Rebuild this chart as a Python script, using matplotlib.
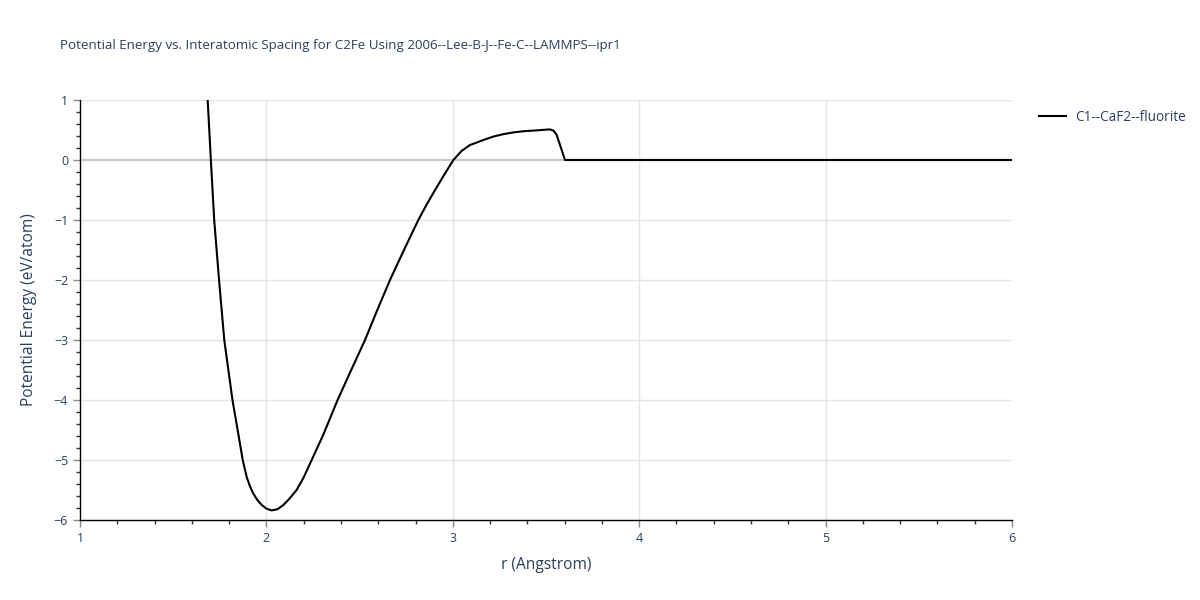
import matplotlib
matplotlib.use("Agg")
import matplotlib.pyplot as plt
from matplotlib.ticker import MultipleLocator

r_vals = [1.685, 1.702, 1.720, 1.746, 1.774, 1.818, 1.849, 1.873, 1.894, 1.912,
          1.930, 1.952, 1.975, 2.000, 2.028, 2.060, 2.091, 2.125, 2.162, 2.200,
          2.234, 2.305, 2.382, 2.455, 2.529, 2.595, 2.663, 2.738, 2.815, 2.860,
          2.905, 2.955, 3.003, 3.047, 3.092, 3.119, 3.170, 3.217, 3.270, 3.325,
          3.380, 3.432, 3.521, 3.540, 3.557, 3.602, 6.0]
energy = [1.0, 0.0, -1.0, -2.0, -3.0, -4.0, -4.56, -5.0, -5.28, -5.44,
          -5.56, -5.67, -5.75, -5.81, -5.84, -5.82, -5.75, -5.64, -5.5, -5.29,
          -5.06, -4.58, -4.0, -3.5, -3.0, -2.5, -2.0, -1.5, -1.0, -0.74,
          -0.5, -0.24, 0.0, 0.15, 0.25, 0.28, 0.34, 0.39, 0.43, 0.46,
          0.48, 0.49, 0.51, 0.49, 0.42, 0.0, 0.0]
series_name = "C1--CaF2--fluorite"
title = "Potential Energy vs. Interatomic Spacing for C2Fe Using 2006--Lee-B-J--Fe-C--LAMMPS--ipr1"
x_ticks = [1, 2, 3, 4, 5, 6]
y_ticks = [1, 0, -1, -2, -3, -4, -5, -6]

plt.rcParams['font.family'] = ['Open Sans', 'DejaVu Sans']
txt = '#2a3f5f'

fig = plt.figure(figsize=(12, 6), dpi=100)
ax = fig.add_axes([80/1200, 80/600, 932/1200, 420/600])
ax.set_xlim(1, 6)
ax.set_ylim(-6, 1)

for x in x_ticks[1:-1]:
    ax.axvline(x, color='#e5e5e5', lw=1, zorder=0)
for y in y_ticks:
    if y == 0:
        ax.axhline(y, color='#c8c8c8', lw=1.5, zorder=0)
    elif y != -6:
        ax.axhline(y, color='#e5e5e5', lw=1, zorder=0)

ax.plot(r_vals, energy, color='black', lw=1.5, label=series_name, zorder=3,
        solid_joinstyle='round')

ax.set_xticks(x_ticks)
ax.set_yticks(y_ticks)
ax.set_yticklabels(['\u2212' + str(-v) if v < 0 else str(v) for v in y_ticks])
ax.xaxis.set_minor_locator(MultipleLocator(0.2))
ax.yaxis.set_minor_locator(MultipleLocator(0.2))
ax.tick_params(which='major', direction='out', length=5, width=1, color='#888888',
               labelcolor=txt, labelsize=9)
ax.tick_params(which='minor', direction='out', length=3, width=1, color='#333333')
for s in ['top', 'right']:
    ax.spines[s].set_visible(False)
for s in ['left', 'bottom']:
    ax.spines[s].set_color('black')
    ax.spines[s].set_linewidth(1)

ax.set_xlabel('r (Angstrom)', color=txt, fontsize=11.2, labelpad=9)
ax.set_ylabel('Potential Energy (eV/atom)', color=txt, fontsize=11.2, labelpad=12)

fig.text(60/1200, 1 - 46/600, title, color=txt, fontsize=9.6, va='center', ha='left')

leg = ax.legend(loc='upper left', bbox_to_anchor=(1027/1200, 1 - 98/600),
                bbox_transform=fig.transFigure, frameon=False, fontsize=9.8,
                handlelength=2.0, handletextpad=0.6)
for t in leg.get_texts():
    t.set_color(txt)

fig.savefig('out.png', dpi=100)
